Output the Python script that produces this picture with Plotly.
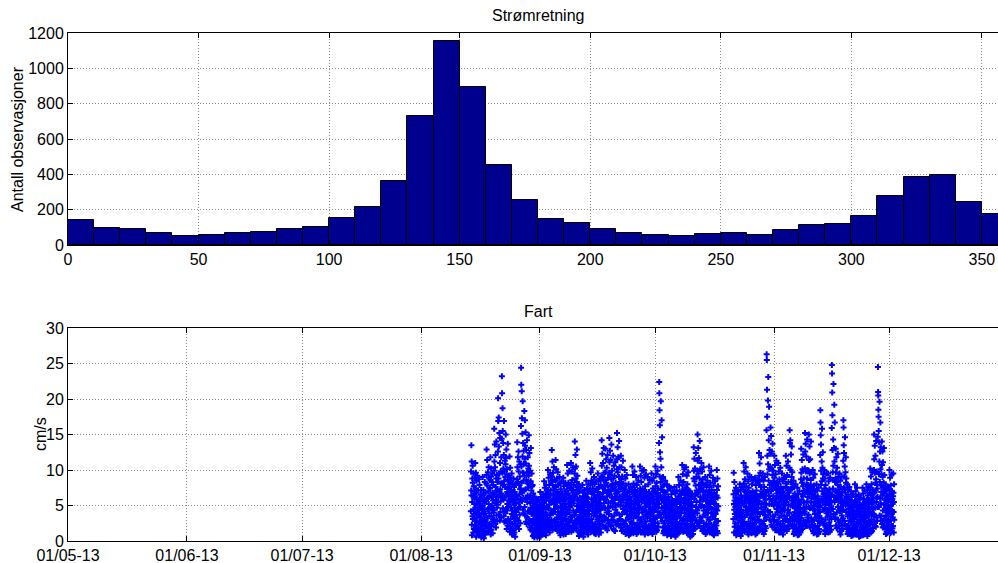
import plotly.graph_objects as go
import pandas as pd

# ---------------- data ----------------
# Direction histogram: left edges of 10-degree bins and counts
dir_bin_left = list(range(0, 360, 10))
dir_counts = [141, 96, 88, 66, 53, 58, 66, 75, 92, 100, 152, 216, 365, 732, 1155, 893,
              455, 254, 145, 124, 88, 66, 58, 53, 60, 66, 58, 85, 113, 117, 166, 275,
              386, 395, 241, 175]
dir_ticks = [0, 50, 100, 150, 200, 250, 300, 350]
count_ticks = [0, 200, 400, 600, 800, 1000, 1200]

# Speed, hourly values in tenths of cm/s, one string per day
seg1_start = "2013-08-14 00:00"
seg1_days = [
    "42 98 71 135 64 112 23 8 55 88 35 106 82 31 64 12 95 44 77 17 61 38 70 52",       # Aug 14
    "28 63 89 110 47 15 74 96 22 6 41 68 85 33 58 12 92 51 19 37 71 44 26 55",
    "19 58 87 44 8 36 79 60 27 11 52 33 65 14 48 72 23 5 39 61 30 17 45 24",
    "7 49 90 56 14 29 72 66 38 4 46 25 61 18 53 83 31 9 42 68 21 35 57 12",
    "34 81 129 93 26 59 114 78 18 32 97 61 45 13 70 104 52 22 88 39 64 15 75 48",
    "21 74 118 86 9 48 102 91 35 16 83 50 62 27 95 43 11 68 57 30 79 24 66 40",
    "44 99 158 112 30 67 136 104 24 53 121 76 58 19 88 140 62 36 93 47 71 28 83 55",
    "51 126 201 169 62 88 174 133 37 70 152 95 64 29 110 145 73 41 98 56 81 33 118 67",
    "63 144 232 208 81 96 187 155 46 79 138 102 58 35 121 169 84 27 99 61 113 42 76 90",
    "39 108 150 117 28 65 129 94 17 43 101 69 52 22 86 137 48 31 74 57 92 26 63 80",
    "26 77 119 89 13 54 103 68 20 31 84 47 59 16 72 95 38 9 66 43 81 24 57 35",
    "15 56 88 62 9 38 76 51 12 24 69 35 47 6 58 81 29 18 64 41 53 22 44 31",
    "32 87 139 104 21 60 118 83 29 45 126 98 54 17 79 112 66 37 91 48 73 25 108 59",
    "74 162 244 220 105 82 211 173 56 68 151 119 197 44 96 138 61 85 127 39 109 71 183 92",
    "48 116 170 134 36 73 153 109 27 59 128 86 61 24 97 142 55 33 81 64 118 42 75 102",
    "31 92 149 106 25 61 124 80 19 42 99 64 53 16 84 131 47 28 71 38 95 22 58 77",
    "14 46 79 53 7 28 67 49 16 9 58 30 41 5 36 62 24 12 51 33 44 19 27 38",
    "8 37 60 44 11 22 55 39 5 17 48 26 31 13 42 57 20 7 35 46 28 15 51 24",             # Aug 31
    "12 41 69 50 6 29 62 43 18 9 54 32 37 14 47 58 25 11 39 66 21 34 45 27",            # Sep 1
    "17 53 84 61 10 34 75 58 23 13 66 40 45 8 57 79 29 19 49 36 71 26 62 31",
    "24 68 100 72 15 46 89 63 20 30 79 51 57 12 65 94 37 26 71 43 84 18 55 39",
    "30 84 128 91 22 57 112 79 16 39 96 60 67 19 73 104 45 28 86 52 64 25 58 41",
    "27 76 114 85 19 49 101 70 25 33 88 54 62 14 69 97 41 23 79 47 58 31 66 37",
    "18 59 90 64 12 37 81 56 8 26 73 42 49 15 61 84 33 21 67 39 52 11 45 28",
    "22 63 89 58 9 41 77 60 14 20 65 36 53 17 70 82 31 10 46 59 38 24 48 29",
    "25 71 107 78 16 44 95 67 21 29 82 52 58 13 64 99 40 27 75 48 61 19 55 34",
    "29 75 110 80 13 50 98 73 17 34 86 57 63 22 71 104 43 15 68 53 79 26 60 37",
    "36 95 140 102 24 63 121 88 20 41 105 66 72 18 83 129 49 31 92 57 76 28 69 44",
    "13 50 80 57 7 32 70 48 11 23 61 37 43 9 54 75 27 16 59 34 46 20 39 25",
    "16 48 79 60 10 30 68 52 6 25 63 39 44 12 56 72 28 18 50 35 65 22 41 26",
    "19 54 85 62 12 35 74 55 15 21 67 43 48 9 59 80 31 24 52 38 70 17 46 29",
    "26 72 110 79 18 46 97 69 13 31 85 53 60 16 68 102 42 25 74 49 83 21 57 36",
    "20 60 90 65 11 39 80 57 16 24 71 45 51 10 62 84 34 19 55 41 73 14 48 30",
    "23 64 95 69 14 42 84 61 9 28 76 48 53 17 66 88 36 22 58 44 79 12 50 33",
    "35 91 142 106 27 62 123 90 22 47 110 74 68 20 85 131 53 34 96 59 77 29 71 46",
    "32 86 130 97 20 58 115 82 18 40 103 68 63 15 78 121 47 30 89 54 72 25 66 42",
    "38 96 145 111 26 66 127 93 23 49 114 77 70 21 87 136 56 35 99 61 80 30 74 48",
    "29 79 120 88 17 53 106 76 15 36 92 62 58 14 72 111 44 26 82 50 67 23 61 39",
    "40 101 152 115 28 69 132 97 24 51 118 80 73 22 90 141 58 37 104 63 83 31 77 50",
    "30 80 120 87 19 55 104 75 14 38 91 60 57 16 70 113 45 27 81 49 66 24 62 40",
    "22 66 100 73 13 44 88 64 10 29 78 50 54 15 63 93 38 21 68 43 58 18 52 33",
    "15 49 80 59 8 33 70 50 12 20 62 38 42 10 53 75 27 17 57 36 47 13 40 26",
    "24 69 105 76 16 45 93 66 11 32 81 52 56 14 65 98 39 23 72 46 60 19 54 35",
    "19 58 90 66 10 39 79 56 14 25 70 44 50 12 61 85 33 20 64 40 55 16 47 30",
    "25 70 105 74 15 47 92 65 12 30 83 55 58 13 67 99 40 24 73 45 61 20 56 34",
    "21 65 100 71 13 43 89 62 9 27 77 49 53 15 64 94 37 22 69 42 57 17 51 32",
    "18 57 90 63 11 36 80 55 15 22 69 41 48 12 60 86 32 19 65 39 53 14 45 28",
    "20 61 95 68 12 40 85 59 10 26 74 46 52 16 63 89 35 21 70 43 57 18 49 31",          # Sep 30
    "26 69 105 77 17 48 94 67 13 33 82 54 59 15 68 99 41 25 74 47 62 20 58 36",         # Oct 1
    "52 138 224 208 184 91 163 125 40 64 116 83 197 33 72 104 58 170 89 47 146 28 77 61",
    "19 59 90 64 11 38 78 54 14 25 69 43 49 12 61 85 33 20 66 40 55 16 46 29",
    "15 50 80 58 8 34 71 49 12 21 62 36 44 10 55 76 28 17 58 35 47 13 40 26",
    "12 46 75 53 7 30 66 45 10 18 58 33 40 9 51 70 25 15 54 32 44 11 37 23",
    "14 47 76 55 9 31 67 46 6 20 59 35 41 11 52 71 26 16 55 34 45 12 38 24",
    "18 58 90 63 11 37 79 56 15 24 70 42 48 13 60 85 32 19 65 39 54 15 46 29",
    "25 70 107 78 16 46 94 68 13 31 83 53 58 14 67 101 40 24 73 47 61 20 56 35",
    "23 68 104 75 14 44 92 65 11 29 80 51 56 15 64 97 38 22 71 45 59 18 54 33",
    "11 43 70 50 6 28 62 42 9 17 55 31 37 8 48 66 24 14 50 30 41 10 35 21",
    "33 88 132 99 21 59 116 84 17 40 102 67 64 18 78 124 48 29 90 55 71 26 67 43",
    "39 99 150 113 26 68 131 95 22 48 117 79 72 21 88 141 56 33 101 62 80 29 75 49",
    "28 75 110 82 18 50 98 71 14 34 87 58 61 16 70 104 43 25 78 48 64 21 59 37",
    "19 59 90 65 10 39 79 56 13 24 71 44 50 12 61 85 33 20 64 40 55 15 47 30",
    "24 69 105 76 15 46 93 66 12 30 82 52 57 14 66 99 39 23 72 45 60 19 55 34",
    "17 56 89 62 10 36 78 54 8 23 68 41 47 11 59 84 31 18 63 38 52 14 44 27",           # Oct 16
    "22 64 100 72 14 43 88 61 11 28 77 49",                                             # Oct 17 (to 11:00)
]

seg2_start = "2013-10-21 10:00"
seg2_days = [
    "31 66 96 52 12 44 83 57 20 38 71 25 48 61",                                        # Oct 21 (from 10:00)
    "20 54 75 49 8 33 66 46 11 19 58 34 41 14 52 70 26 10 47 37 60 17 43 29",
    "16 55 80 56 10 35 72 50 7 22 64 38 44 12 57 76 29 19 53 33 61 15 40 25",
    "27 76 110 81 17 50 98 70 13 34 87 56 62 15 69 104 43 24 77 48 64 21 58 37",
    "21 63 95 69 12 42 84 60 9 27 75 47 53 14 65 90 36 22 68 44 57 17 50 32",
    "19 60 90 64 11 38 80 55 14 25 70 43 49 13 61 86 33 20 66 40 54 16 46 30",
    "20 59 89 66 9 39 79 57 12 26 71 45 51 11 62 84 34 18 63 41 56 15 47 29",
    "30 84 124 92 20 56 109 79 16 38 96 63 66 17 76 118 47 27 87 52 70 24 65 41",
    "22 64 95 68 13 41 85 61 10 28 76 48 54 14 63 90 36 21 69 44 58 18 51 33",
    "68 156 263 255 213 175 120 94 43 72 198 108 231 37 85 142 64 189 101 52 128 30 79 59",  # Oct 30
    "41 104 160 123 29 70 148 102 23 52 126 81 74 20 93 137 57 35 99 63 84 28 78 50",
    "30 80 120 89 19 54 107 77 15 37 94 61 58 16 72 113 45 26 82 50 67 23 62 40",       # Nov 1
    "27 74 110 81 16 50 98 70 12 33 87 55 60 14 68 103 42 24 76 47 63 20 57 36",
    "21 63 95 69 13 42 84 60 9 28 74 46 52 15 64 89 35 22 67 43 57 17 50 31",
    "29 81 120 90 18 55 106 76 14 36 93 62 59 17 71 112 44 27 83 51 68 22 63 39",
    "40 103 156 138 31 71 142 100 24 50 122 83 74 21 90 133 57 34 97 61 80 28 76 49",
    "18 56 85 62 10 37 76 53 13 23 67 41 46 11 58 80 31 19 61 38 51 14 44 28",
    "14 48 75 54 8 32 66 46 10 19 58 35 40 9 51 70 26 16 54 33 45 12 37 24",
    "32 87 130 96 21 58 114 82 17 39 101 66 63 18 77 122 47 29 88 54 71 25 66 42",
    "39 102 152 126 27 69 137 98 22 48 119 80 72 21 88 143 56 33 100 62 79 29 75 48",
    "37 99 150 114 26 67 133 95 20 46 115 78 70 19 86 140 54 32 97 60 77 27 73 47",
    "23 66 100 73 14 44 89 64 11 29 78 50 55 13 64 94 38 21 70 43 59 18 52 33",
    "16 52 80 58 9 34 71 49 12 21 63 39 44 10 55 75 28 17 57 35 48 13 41 26",
    "50 121 184 167 149 79 136 99 32 60 112 84 158 27 70 103 54 125 88 44 94 23 66 58",
    "24 67 100 74 15 45 88 63 10 30 79 51 56 14 65 95 39 22 71 44 60 19 53 34",
    "20 62 95 68 12 41 84 59 14 26 73 46 52 13 63 89 35 21 68 43 57 16 49 31",
    "65 159 248 236 209 177 128 97 45 74 143 106 221 38 86 131 62 192 112 55 167 31 83 70",  # Nov 16
    "33 88 130 97 22 59 118 83 18 40 103 69 64 19 79 123 48 30 90 56 73 26 67 43",
    "21 64 95 69 13 42 85 61 9 27 76 47 53 14 64 90 36 22 69 44 58 17 50 32",
    "44 113 170 160 135 75 124 91 28 56 105 73 146 24 68 97 50 118 82 41 88 20 62 53",
    "17 54 80 59 10 35 72 51 13 22 65 40 45 11 56 76 29 18 58 36 49 14 42 27",
    "13 44 70 51 7 29 62 43 10 18 55 33 38 8 49 66 24 14 51 31 42 11 36 22",
    "15 51 80 57 9 33 70 49 11 20 63 37 43 10 54 75 27 16 57 34 47 13 40 25",
    "11 42 65 48 6 27 59 40 9 16 51 30 36 7 46 61 23 13 48 29 40 10 34 20",
    "14 48 75 53 8 31 67 46 12 19 59 35 41 9 52 71 26 15 54 33 45 12 38 24",
    "16 52 80 58 10 34 71 50 7 21 64 39 44 11 55 76 28 17 58 36 48 13 41 26",
    "24 68 102 75 15 45 91 65 12 30 80 52 57 14 66 97 39 23 72 45 60 19 54 35",
    "38 100 150 115 27 68 134 96 21 47 120 82 71 20 87 141 55 33 98 61 79 28 74 48",
    "62 147 245 210 205 185 175 155 48 94 139 112 196 36 83 126 60 167 101 53 132 29 78 69",  # Nov 28
    "35 94 140 107 24 64 126 90 19 43 111 75 67 20 82 131 51 31 93 58 75 27 70 45",
    "17 53 80 59 10 36 71 50 13 22 64 40 45 11 56 76 28 18 58 35 49 14 42 27",
    "23 66 100 73 14 44 89 63 11 29 78 50 55 13 64 94 38 21 70 43 59 18 52 33",         # Dec 1
    "21 63 95 68 41 12 55 80 30",                                                       # Dec 2 (to 08:00)
]

date_ticks = ["2013-05-01", "2013-06-01", "2013-07-01", "2013-08-01",
              "2013-09-01", "2013-10-01", "2013-11-01", "2013-12-01"]
date_ticktext = ["01/05-13", "01/06-13", "01/07-13", "01/08-13",
                 "01/09-13", "01/10-13", "01/11-13", "01/12-13"]
speed_ticks = [0, 5, 10, 15, 20, 25, 30]

# ---------------- build ----------------
speed1 = [int(v) / 10 for d in seg1_days for v in d.split()]
speed2 = [int(v) / 10 for d in seg2_days for v in d.split()]
t1 = pd.date_range(seg1_start, periods=len(speed1), freq="1h")
t2 = pd.date_range(seg2_start, periods=len(speed2), freq="1h")
times = list(t1) + list(t2)
speeds = speed1 + speed2

W, H = 998, 563
FONT = "Liberation Sans, Arial, Helvetica, sans-serif"
FS = 16

fig = go.Figure()
fig.add_trace(go.Bar(
    x=[b + 5 for b in dir_bin_left], y=dir_counts, width=10,
    marker=dict(color="#00008F", line=dict(color="black", width=1)),
    xaxis="x", yaxis="y", showlegend=False,
))
fig.add_trace(go.Scatter(
    x=times, y=speeds, mode="markers",
    marker=dict(symbol="cross", size=5, color="#0000FF", line=dict(width=0)),
    xaxis="x2", yaxis="y2", showlegend=False,
))

left = 68 / W
common = dict(showline=True, linecolor="black", linewidth=1, ticks="inside",
              ticklen=5, tickcolor="black", zeroline=False, automargin=False,
              showgrid=True, gridcolor="#8a8a8a", griddash="1px,2px", gridwidth=1,
              tickfont=dict(family=FONT, size=FS, color="black"))

fig.update_layout(
    width=W, height=H, margin=dict(l=0, r=0, t=0, b=0, pad=0),
    paper_bgcolor="white", plot_bgcolor="white",
    font=dict(family=FONT, size=FS, color="black"),
    bargap=0,
    xaxis=dict(domain=[left, 1], range=[0, 356.17], tickvals=dir_ticks,
               mirror="ticks", anchor="y", **common),
    yaxis=dict(domain=[(H - 245) / H, (H - 33) / H], range=[0, 1200],
               tickvals=count_ticks, mirror=False, anchor="x", **common),
    xaxis2=dict(domain=[left, 1], type="date",
                range=["2013-05-01", "2013-12-29 09:00"],
                tickvals=date_ticks, ticktext=date_ticktext,
                mirror="ticks", anchor="y2", **common),
    yaxis2=dict(domain=[(H - 541) / H, (H - 328) / H], range=[0, 30],
                tickvals=speed_ticks, mirror=False, anchor="x2", **common),
    annotations=[
        dict(text="Strømretning", x=538 / W, y=1 - 16 / H, xref="paper", yref="paper",
             showarrow=False, xanchor="center", yanchor="middle",
             font=dict(family=FONT, size=FS, color="black")),
        dict(text="Fart", x=538 / W, y=1 - 311 / H, xref="paper", yref="paper",
             showarrow=False, xanchor="center", yanchor="middle",
             font=dict(family=FONT, size=FS, color="black")),
        dict(text="Antall observasjoner", x=18 / W, y=1 - 139 / H, xref="paper",
             yref="paper", showarrow=False, textangle=-90, xanchor="center",
             yanchor="middle", font=dict(family=FONT, size=FS, color="black")),
        dict(text="cm/s", x=40 / W, y=1 - 434 / H, xref="paper", yref="paper",
             showarrow=False, textangle=-90, xanchor="center", yanchor="middle",
             font=dict(family=FONT, size=FS, color="black")),
    ],
)

fig.write_html("out.html")
